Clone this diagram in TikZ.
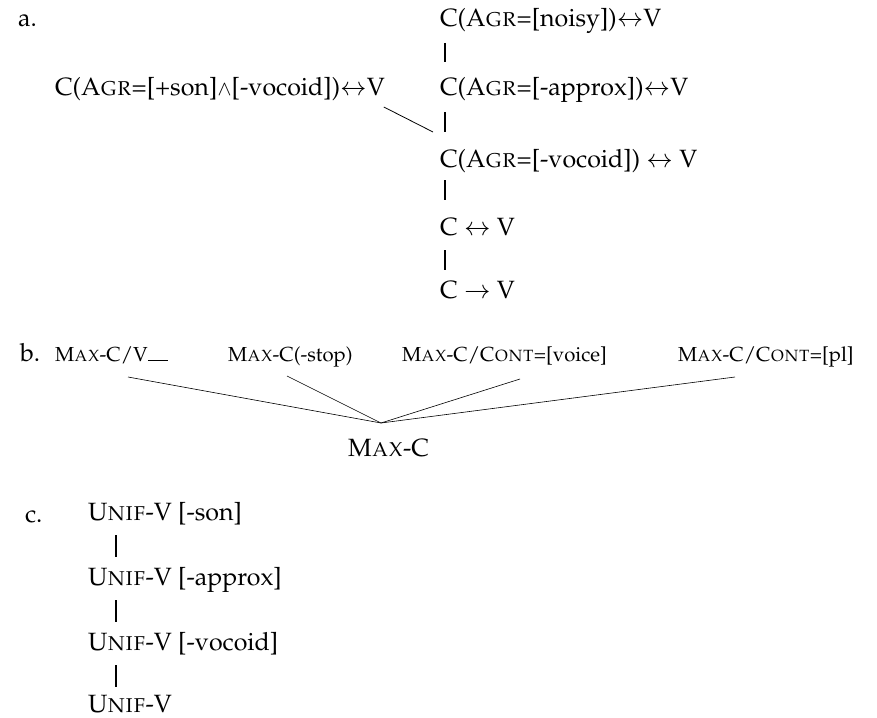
\documentclass[tikz,border=0pt]{standalone}
\usepackage[T1]{fontenc}
\usepackage{mathpazo}
\usepackage{graphicx}
\newcommand\myLR{{$\leftrightarrow$}}
\newcommand\myWedge{{\fontsize{20}{20}\selectfont$\wedge$}}
\begin{document}
\begin{tikzpicture}[x=1pt,y=-1pt,
  every node/.style={inner sep=0pt,outer sep=0pt,anchor=base west},
  big/.style={font=\fontsize{25}{30}\selectfont},
  small/.style={font=\fontsize{20.3}{24}\selectfont},
  bar/.style={line width=1.3pt},
  diag/.style={line width=0.8pt},
  thinline/.style={line width=0.6pt}]
\useasboundingbox (0,0) rectangle (877,717);
% part a
\node[big] (la) at (18,27) {a.};
\node[big] (a1) at (440,27) {C(A\textsc{gr}=[noisy])\myLR V};
\node[big] (a2) at (440,95) {C(A\textsc{gr}=[-approx])\myLR V};
\node[big] (a3) at (440,167) {C(A\textsc{gr}=[-vocoid]) \myLR{} V};
\node[big] (a4) at (440,235) {C \myLR{} V};
\node[big] (a5) at (440,298) {C $\rightarrow$ V};
\node[big] (L) at (55,95) {C(A\textsc{gr}=[+son]\myWedge[-vocoid])\myLR V};
\draw[bar] ([shift={(5,16)}]a1.base west) -- ([shift={(5,-33)}]a2.base west);
\draw[bar] ([shift={(5,17)}]a2.base west) -- ([shift={(5,-35)}]a3.base west);
\draw[bar] ([shift={(5,13)}]a3.base west) -- ([shift={(5,-35)}]a4.base west);
\draw[bar] ([shift={(5,15)}]a4.base west) -- ([shift={(5,-28)}]a5.base west);
\draw[diag] ([shift={(-1,12)}]L.base east) -- ([shift={(-7,-35)}]a3.base west);
% part b
\node[big] (lb) at (20,361) {b.};
\node[small] (b1) at (55,361) {M\textsc{ax}-C/V\rule{20pt}{1.3pt}};
\node[small] (b2) at (228,361) {M\textsc{ax}-C(-stop)};
\node[small] (b3) at (402,361) {M\textsc{ax}-C/C\textsc{ont}=[voice]};
\node[small] (b4) at (678,361) {M\textsc{ax}-C/C\textsc{ont}=[pl]};
\node[big] (m) at (348,456) {M\textsc{ax}-C};
\coordinate (conv) at ([shift={(33,-33)}]m.base west);
\draw[thinline] ([shift={(73,16)}]b1.base west) -- (conv);
\draw[thinline] ([shift={(59,15)}]b2.base west) -- (conv);
\draw[thinline] ([shift={(118,18)}]b3.base west) -- (conv);
\draw[thinline] ([shift={(57,16)}]b4.base west) -- (conv);
% part c
\node[big] (lc) at (25,522) {c.};
\node[big] (c1) at (88,520) {U\textsc{nif}-V [-son]};
\node[big] (c2) at (88,585) {U\textsc{nif}-V [-approx]};
\node[big] (c3) at (88,650) {U\textsc{nif}-V [-vocoid]};
\node[big] (c4) at (88,712) {U\textsc{nif}-V};
\draw[bar] ([shift={(28,15)}]c1.base west) -- ([shift={(28,-28)}]c2.base west);
\draw[bar] ([shift={(28,15)}]c2.base west) -- ([shift={(28,-28)}]c3.base west);
\draw[bar] ([shift={(28,15)}]c3.base west) -- ([shift={(28,-25)}]c4.base west);
\end{tikzpicture}
\end{document}
